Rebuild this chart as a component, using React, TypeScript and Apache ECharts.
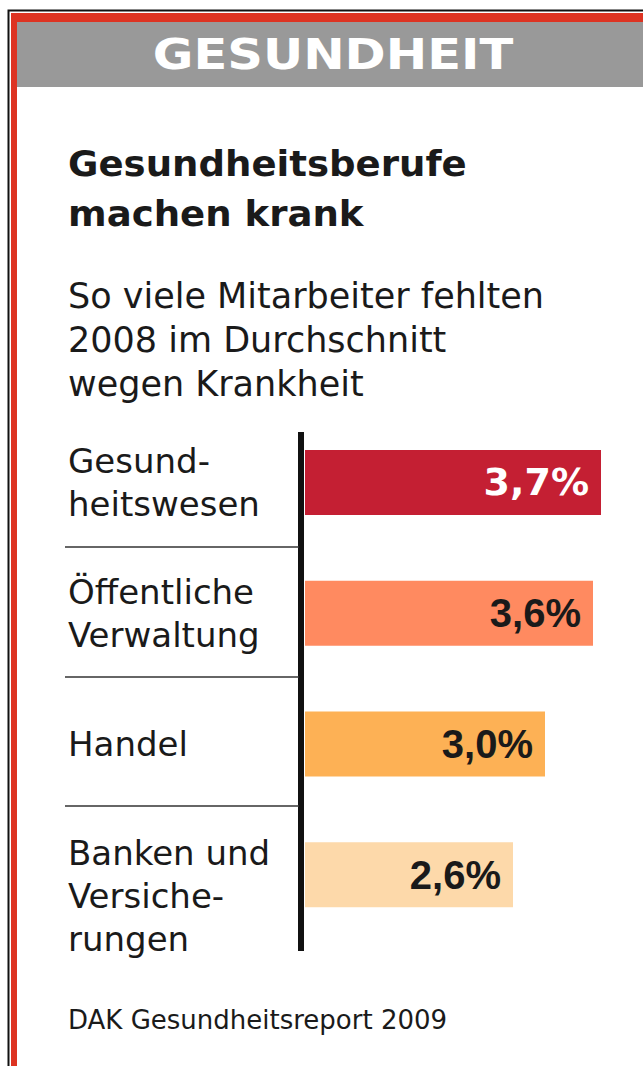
import React, { useEffect, useRef } from "react";
import * as echarts from "echarts";

const headerText = "GESUNDHEIT";
const titleText = "Gesundheitsberufe\nmachen krank";
const subtitleText = "So viele Mitarbeiter fehlten\n2008 im Durchschnitt\nwegen Krankheit";
const sourceText = "DAK Gesundheitsreport 2009";

const categories = ["Gesund-\nheitswesen", "Öffentliche\nVerwaltung", "Handel", "Banken und\nVersiche-\nrungen"];
const values = [3.7, 3.6, 3.0, 2.6];
const barColors = ["#C41F33", "#FF8A60", "#FDB155", "#FDD9AA"];
const valueLabelColors = ["#FFFFFF", "#1A1A1A", "#1A1A1A", "#1A1A1A"];

const fmt = (v: number) => v.toFixed(1).replace(".", ",") + "%";

export default function App() {
  const ref = useRef<HTMLDivElement>(null);
  useEffect(() => {
    if (!ref.current) return;
    const chart = echarts.init(ref.current, null, { renderer: "svg" });
    const txt = (extra: any) => ({
      fill: "#1A1A1A",
      fontFamily: "DejaVu Sans",
      align: "left",
      textAlign: "left",
      verticalAlign: "middle",
      textVerticalAlign: "middle",
      ...extra,
    });
    chart.setOption({
      animation: false,
      backgroundColor: "#FFFFFF",
      grid: { left: 305, top: 417, width: 320, height: 523, containLabel: false, outerBoundsMode: "none" },
      xAxis: { type: "value", min: 0, max: 4, show: false },
      yAxis: {
        type: "category",
        inverse: true,
        data: categories,
        axisLine: { show: false },
        axisTick: { show: false },
        splitLine: { show: false },
        axisLabel: {
          align: "left",
          margin: 237,
          fontSize: 34,
          fontFamily: "DejaVu Sans",
          color: "#1A1A1A",
          lineHeight: 43,
          // three-line label sits lower in its band, as in the original
          formatter: (v: string) => (v.split("\n").length > 2 ? "\n" + v : v),
        },
      },
      series: [
        {
          type: "bar",
          barWidth: 65,
          data: values.map((v, i) => ({
            value: v,
            itemStyle: { color: barColors[i] },
            label: {
              color: valueLabelColors[i],
              fontFamily: i === 0 ? "DejaVu Sans" : "Liberation Sans",
              fontSize: i === 0 ? 38 : 40,
            },
          })),
          label: {
            show: true,
            position: "insideRight",
            distance: 12,
            fontWeight: "bold",
            formatter: (p: any) => fmt(p.value),
          },
        },
      ],
      graphic: [
        { type: "rect", shape: { x: 8.5, y: 10.5, width: 700, height: 1100 }, style: { fill: "transparent", stroke: "#111111", lineWidth: 2 } },
        { type: "rect", shape: { x: 11, y: 13, width: 700, height: 9 }, style: { fill: "#DD3322" } },
        { type: "rect", shape: { x: 11, y: 13, width: 6, height: 1100 }, style: { fill: "#DD3322" } },
        { type: "rect", shape: { x: 17, y: 22, width: 700, height: 65 }, style: { fill: "#999999" } },
        {
          type: "text", x: 333, y: 54, scaleX: 1.18,
          style: txt({ text: headerText, fill: "#FFFFFF", fontSize: 42, fontWeight: "bold", align: "center", textAlign: "center" }),
        },
        {
          type: "text", x: 68, y: 189.5, scaleX: 1.06,
          style: txt({ text: titleText, fontSize: 35, fontWeight: "bold", lineHeight: 50 }),
        },
        {
          type: "text", x: 68, y: 339.5,
          style: txt({ text: subtitleText, fontSize: 35, lineHeight: 44 }),
        },
        {
          type: "text", x: 68, y: 1020,
          style: txt({ text: sourceText, fontSize: 26 }),
        },
        { type: "line", shape: { x1: 301, y1: 432, x2: 301, y2: 951 }, style: { stroke: "#111111", lineWidth: 6 } },
        { type: "line", shape: { x1: 65, y1: 547, x2: 299, y2: 547 }, style: { stroke: "#333333", lineWidth: 1.5 } },
        { type: "line", shape: { x1: 65, y1: 677, x2: 299, y2: 677 }, style: { stroke: "#333333", lineWidth: 1.5 } },
        { type: "line", shape: { x1: 65, y1: 806, x2: 299, y2: 806 }, style: { stroke: "#333333", lineWidth: 1.5 } },
      ],
    });
    return () => chart.dispose();
  }, []);
  return (
    <div
      ref={ref}
      style={{ position: "absolute", left: 0, top: 0, width: 643, height: 1066, background: "#FFFFFF" }}
    />
  );
}
